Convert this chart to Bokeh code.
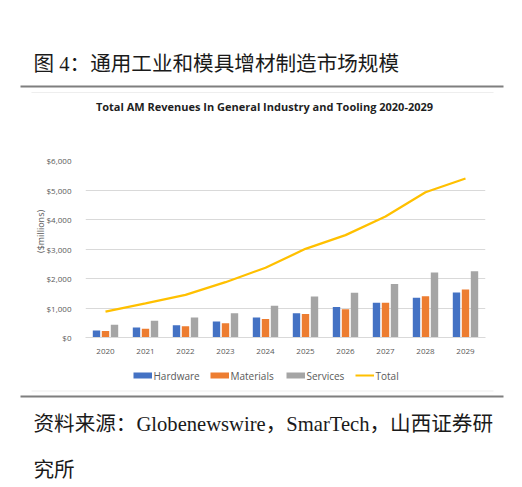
from bokeh.plotting import figure
from bokeh.layouts import column, row
from bokeh.models import (Range1d, FactorRange, FixedTicker, NumeralTickFormatter,
                          Label, BoxAnnotation, ColumnDataSource)
from bokeh.transform import dodge
from bokeh.embed import file_html
from bokeh.resources import INLINE

years = ["2020", "2021", "2022", "2023", "2024", "2025", "2026", "2027", "2028", "2029"]
hardware = [240, 340, 415, 540, 675, 825, 1030, 1175, 1345, 1525]
materials = [220, 295, 385, 485, 630, 800, 960, 1175, 1400, 1625]
services = [430, 565, 680, 825, 1075, 1390, 1515, 1810, 2205, 2250]
total = [880, 1160, 1445, 1875, 2365, 3005, 3470, 4100, 4925, 5390]
y_ticks = [0, 1000, 2000, 3000, 4000, 5000, 6000]
series_names = ["Hardware", "Materials", "Services", "Total"]
series_colors = ["#4472C4", "#ED7D31", "#A5A5A5", "#FFC000"]

fig_title = "图 4：通用工业和模具增材制造市场规模"
chart_title = "Total AM Revenues In General Industry and Tooling 2020-2029"
y_title = "($millions)"
source_line1 = "资料来源：Globenewswire，SmarTech，山西证券研"
source_line2 = "究所"

CJK = "Liberation Serif, Noto Sans CJK SC"
LAT = "Open Sans"
W = 516


def blank(width, height, oy, ox=0):
    """A plain figure whose frame is the whole canvas, in page-pixel units."""
    f = figure(width=width, height=height, output_backend="svg", toolbar_location=None,
               x_range=Range1d(ox, ox + width), y_range=Range1d(oy + height, oy),
               x_axis_location=None, y_axis_location=None,
               min_border=0, min_border_left=0, min_border_right=0,
               min_border_top=0, min_border_bottom=0)
    f.grid.visible = False
    f.outline_line_color = None
    f.background_fill_color = "white"
    f.border_fill_color = "white"
    return f


def lab(f, X, Y, text, **kw):
    f.add_layout(Label(x=X, y=Y, text=text, **kw))


def rule(f, x0, x1, y0, y1, color):
    f.add_layout(BoxAnnotation(left=x0, right=x1, top=y0, bottom=y1,
                               fill_color=color, fill_alpha=1, line_color=None))


# ---------- top strip (page y 0..118)
top = blank(W, 118, 0)
lab(top, 33, 63, fig_title, text_font=CJK, text_font_size="20.6px", text_color="#1a1a1a",
    text_align="left", text_baseline="middle")
rule(top, 20, 503, 85, 87, "#7f7f7f")
rule(top, 31, 493, 91.5, 92.5, "#eeeeee")
lab(top, 264, 105.5, chart_title, text_font=LAT, text_font_style="bold",
    text_font_size="11px", text_color="#1f1f1f", text_align="center",
    text_baseline="middle")

# ---------- main chart (page y 118..362)
src = ColumnDataSource(dict(year=years, hardware=hardware, materials=materials,
                            services=services, total=total))
p = figure(width=W, height=244,
           x_range=FactorRange(factors=years, range_padding=0),
           y_range=Range1d(0, 6000),
           output_backend="svg", toolbar_location=None,
           min_border_left=85, min_border_right=31,
           min_border_top=42, min_border_bottom=25)
p.outline_line_color = None
p.background_fill_color = "white"
p.border_fill_color = "white"

p.vbar(x=dodge("year", -0.225, range=p.x_range), top="hardware", width=0.185,
       source=src, fill_color=series_colors[0], line_color=None)
p.vbar(x=dodge("year", 0.0, range=p.x_range), top="materials", width=0.185,
       source=src, fill_color=series_colors[1], line_color=None)
p.vbar(x=dodge("year", 0.225, range=p.x_range), top="services", width=0.185,
       source=src, fill_color=series_colors[2], line_color=None)
p.line(x="year", y="total", source=src, line_color=series_colors[3], line_width=2.25)

p.yaxis.ticker = FixedTicker(ticks=y_ticks)
p.yaxis.formatter = NumeralTickFormatter(format="$0,0")
p.yaxis.axis_line_color = None
p.yaxis.major_tick_line_color = None
p.yaxis.minor_tick_line_color = None
p.yaxis.major_label_text_font_size = "8px"
p.yaxis.major_label_text_color = "#595959"
p.yaxis.major_label_text_font = LAT
p.yaxis.major_label_standoff = 8
p.yaxis.axis_label = "\u00a0" * 15 + y_title
p.yaxis.axis_label_text_font = LAT
p.yaxis.axis_label_text_font_size = "9px"
p.yaxis.axis_label_text_font_style = "normal"
p.yaxis.axis_label_text_color = "#595959"
p.yaxis.axis_label_standoff = -3

p.xaxis.axis_line_color = "#D9D9D9"
p.xaxis.major_tick_line_color = None
p.xaxis.minor_tick_line_color = None
p.xaxis.major_label_text_font_size = "8px"
p.xaxis.major_label_text_color = "#595959"
p.xaxis.major_label_text_font = LAT
p.xaxis.major_label_standoff = 5

p.ygrid.grid_line_color = "#D9D9D9"
p.xgrid.grid_line_color = None

# ---------- bottom strip (page y 362..482): key, rules, source
bot = blank(W, 120, 362)
key_x = [133, 210, 286, 355]  # swatch left edges (layout)
for i, (name, color) in enumerate(zip(series_names, series_colors)):
    x0 = key_x[i]
    if i < 3:
        rule(bot, x0, x0 + 18.5, 372, 378, color)
    else:
        rule(bot, x0, x0 + 18.5, 374, 376, color)
    lab(bot, x0 + 20, 375, name, text_font=LAT, text_font_size="10px",
        text_color="#595959", text_align="left", text_baseline="middle")
rule(bot, 31, 493, 390, 391, "#eeeeee")
rule(bot, 20, 503, 395, 397, "#7f7f7f")
lab(bot, 33, 423, source_line1, text_font=CJK, text_font_size="20.6px",
    text_color="#1a1a1a", text_align="left", text_baseline="middle")
lab(bot, 33, 469, source_line2, text_font=CJK, text_font_size="20.6px",
    text_color="#1a1a1a", text_align="left", text_baseline="middle")

layout = column(top, row(p), bot, spacing=0)
open("out.html", "w").write(file_html(layout, INLINE))
